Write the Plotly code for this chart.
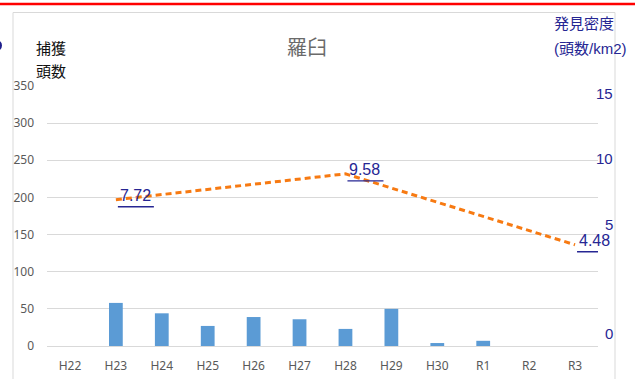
import plotly.graph_objects as go

# 年度
years = ["H22", "H23", "H24", "H25", "H26", "H27", "H28", "H29", "H30", "R1", "R2", "R3"]
# 捕獲頭数（棒）
captures = [0, 58, 44, 27, 39, 36, 23, 50, 4, 7, 0, 0]
# 発見密度（頭数/km2）：調査のあった年度のみ
density_years = ["H23", "H28", "R3"]
density_values = [7.72, 9.58, 4.48]
# 左軸・右軸の目盛
left_ticks = [0, 50, 100, 150, 200, 250, 300, 350]
right_tick_labels = ["15", "10", "5", "0"]

W, H = 635, 379
L, R, T, B = 47, 37, 86, 33
plot_w, plot_h = W - L - R, H - T - B

NAVY = "#262693"
GRAY = "#595959"
GRID = "#D9D9D9"
LATIN = "Noto Sans, Liberation Sans, Arial, sans-serif"
CJK = "Noto Sans CJK JP, sans-serif"


def px_x(px):
    return (px - L) / plot_w


def px_y(py):
    return (H - B - py) / plot_h


fig = go.Figure()

fig.add_trace(go.Bar(
    x=years, y=captures, width=0.3,
    marker=dict(color="#5B9BD5", line=dict(width=0)),
    yaxis="y", hoverinfo="skip", showlegend=False,
))

fig.add_trace(go.Scatter(
    x=density_years, y=density_values, mode="lines",
    line=dict(color="#F77A12", width=3, dash="6px,4px"),
    yaxis="y2", hoverinfo="skip", showlegend=False,
))

annotations = []
shapes = []

# データラベル（下線付き）
for yr, v in zip(density_years, density_values):
    annotations.append(dict(
        x=yr, y=v, xref="x", yref="y2", text=f"{v:.2f}", showarrow=False,
        xanchor="left", yanchor="middle", xshift=2, yshift=4,
        font=dict(family="Liberation Sans, Arial, sans-serif", size=16, color=NAVY),
    ))
    shapes.append(dict(
        type="line", xref="x", yref="y2",
        xsizemode="pixel", xanchor=yr, x0=2, x1=38,
        ysizemode="pixel", yanchor=v, y0=-7, y1=-7,
        line=dict(color=NAVY, width=1.4),
    ))

# 右側の密度目盛ラベル
for txt, py in zip(right_tick_labels, [93, 158, 224, 333]):
    annotations.append(dict(
        x=px_x(615), y=px_y(py), xref="paper", yref="paper", text=txt,
        showarrow=False, xanchor="right", yanchor="middle",
        font=dict(family="Liberation Sans, Arial, sans-serif", size=15, color=NAVY),
    ))

# タイトル・軸タイトル
annotations += [
    dict(x=px_x(307), y=px_y(46), xref="paper", yref="paper", text="羅臼",
         showarrow=False, xanchor="center", yanchor="middle",
         font=dict(family=CJK, size=20, color="#6A6A6A")),
    dict(x=px_x(34), y=px_y(47), xref="paper", yref="paper", text="捕獲",
         showarrow=False, xanchor="left", yanchor="middle",
         font=dict(family=CJK, size=15, color="#111111")),
    dict(x=px_x(34), y=px_y(70), xref="paper", yref="paper", text="頭数",
         showarrow=False, xanchor="left", yanchor="middle",
         font=dict(family=CJK, size=15, color="#111111")),
    dict(x=px_x(552), y=px_y(23), xref="paper", yref="paper", text="発見密度",
         showarrow=False, xanchor="left", yanchor="middle",
         font=dict(family=CJK, size=15, color=NAVY)),
    dict(x=px_x(552), y=px_y(48), xref="paper", yref="paper", text="(頭数/km2)",
         showarrow=False, xanchor="left", yanchor="middle",
         font=dict(family="Liberation Sans, " + CJK, size=15, color=NAVY)),
]

# グラフ枠・上部の赤線・左端の丸
shapes += [
    dict(type="rect", xref="paper", yref="paper",
         x0=px_x(13), x1=px_x(615), y0=px_y(12.5), y1=px_y(400),
         line=dict(color=GRID, width=1), layer="below"),
    dict(type="line", xref="paper", yref="paper",
         x0=px_x(-5), x1=px_x(640), y0=px_y(4), y1=px_y(4),
         line=dict(color="#FF0000", width=2.5)),
    dict(type="circle", xref="paper", yref="paper",
         x0=px_x(-9), x1=px_x(2), y0=px_y(40), y1=px_y(51),
         fillcolor="#1E1E8C", line=dict(width=0)),
]

fig.update_layout(
    width=W, height=H,
    margin=dict(l=L, r=R, t=T, b=B, pad=0, autoexpand=False),
    paper_bgcolor="white", plot_bgcolor="white",
    bargap=0.7,
    annotations=annotations, shapes=shapes,
    xaxis=dict(
        type="category", categoryorder="array", categoryarray=years,
        range=[-0.5, len(years) - 0.5], automargin=False,
        showgrid=False, zeroline=False, showline=False, ticks="",
        tickfont=dict(family=LATIN, size=12, color=GRAY),
        ticklabelstandoff=11, fixedrange=True,
    ),
    yaxis=dict(
        range=[0, 350], tickvals=left_ticks, automargin=False,
        showgrid=True, gridcolor=GRID, gridwidth=1,
        zeroline=True, zerolinecolor=GRID, zerolinewidth=1,
        showline=False, ticks="",
        tickfont=dict(family=LATIN, size=12, color=GRAY),
        ticklabelstandoff=12, fixedrange=True,
    ),
    yaxis2=dict(
        overlaying="y", side="right", range=[-2.8, 15.9], automargin=False,
        showgrid=False, zeroline=False, showticklabels=False, ticks="",
        fixedrange=True,
    ),
)

fig.write_html("out.html")
